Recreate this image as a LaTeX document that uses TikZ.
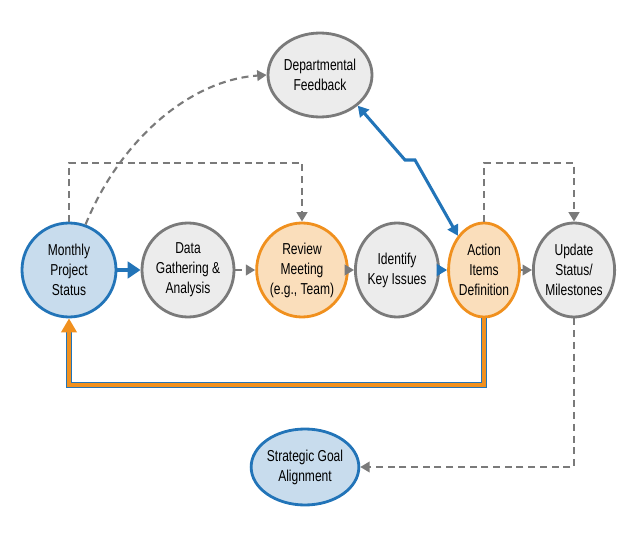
\documentclass[tikz,border=0pt]{standalone}
\usepackage{fontspec}
\setmainfont{Liberation Sans}[FakeStretch=0.76]
\usetikzlibrary{shapes.geometric,arrows.meta}
\definecolor{stageblue}{HTML}{2274B8}
\definecolor{stagegray}{HTML}{7A7A7A}
\definecolor{stageorange}{HTML}{F0901E}
\tikzset{
  stage/.style={ellipse,draw=stagegray,line width=2.4pt,fill=gray!15,align=center,
    inner sep=0pt,font=\fontsize{13.5}{17}\selectfont},
  blue stage/.style={stage,draw=stageblue,fill=stageblue!25},
  orange stage/.style={stage,draw=stageorange,fill=stageorange!30},
  dashlink/.style={draw=stagegray,line width=1.8pt,dash pattern=on 6pt off 4pt,-{Triangle[length=8pt,width=9pt]}},
  bluelink/.style={draw=stageblue,line width=2.6pt,-{Triangle[length=9pt,width=10pt]}}
}
\begin{document}
\begin{tikzpicture}[x=0.03cm,y=-0.03cm]
      \useasboundingbox (0,0) rectangle (638,538);
      \node [blue stage,minimum width=2.82cm,minimum height=2.82cm] (mps) at (69,270) {Monthly\\Project\\Status};
      \node [stage,minimum width=2.76cm,minimum height=2.82cm] (dga) at (188,270) {Data\\Gathering \&\\Analysis};
      \node [orange stage,minimum width=2.52cm,minimum height=2.82cm] (rev) at (302,270) {Review\\Meeting\\(e.g., Team)};
      \node [stage,minimum width=2.04cm,minimum height=2.82cm] (iki) at (397,270) {Identify\\Key Issues};
      \node [orange stage,minimum width=2.1cm,minimum height=2.82cm] (aid) at (484,270) {Action\\Items\\Definition};
      \node [stage,minimum width=2.4cm,minimum height=2.82cm] (usm) at (574,270) {Update\\Status/\\Milestones};
      \node [stage,minimum width=3.12cm,minimum height=2.52cm] (dfb) at (320,75) {Departmental\\Feedback};
      \node [blue stage,minimum width=3.18cm,minimum height=2.28cm] (sga) at (305,467) {Strategic Goal\\Alignment};

      % main row
      \draw [bluelink,line width=4pt,-{Triangle[length=11pt,width=14pt]}] (mps) -- (dga);
      \draw [dashlink] (dga) -- (rev);
      \draw [dashlink] (rev) -- (iki);
      \draw [bluelink,line width=3pt] (iki) -- (aid);
      \draw [dashlink] (aid) -- (usm);

      % dashed loops over the top
      \draw [dashlink] (mps.north) -- (69,163) -| (rev.north);
      \draw [dashlink] (aid.north) -- (484,163) -| (usm.north);
      \draw [dashlink] (mps.70) .. controls (120,140) and (190,80) .. (dfb.west);
      \draw [dashlink] (usm.south) |- (sga.east);

      % feedback links
      \draw [bluelink,{Triangle[length=9pt,width=10pt]}-{Triangle[length=9pt,width=10pt]}]
        (dfb.south east) -- (405,160) -- (415,160) -- (aid.north west);
      \draw [draw=stageblue,line width=5.5pt] (aid.south) -- (484,385) -- (69,385) -- (69,330);
      \draw [draw=stageorange,line width=3.5pt,-{Triangle[length=12pt,width=13pt]}]
        (aid.south) -- (484,385) -- (69,385) -- (mps.south);
\end{tikzpicture}
\end{document}
